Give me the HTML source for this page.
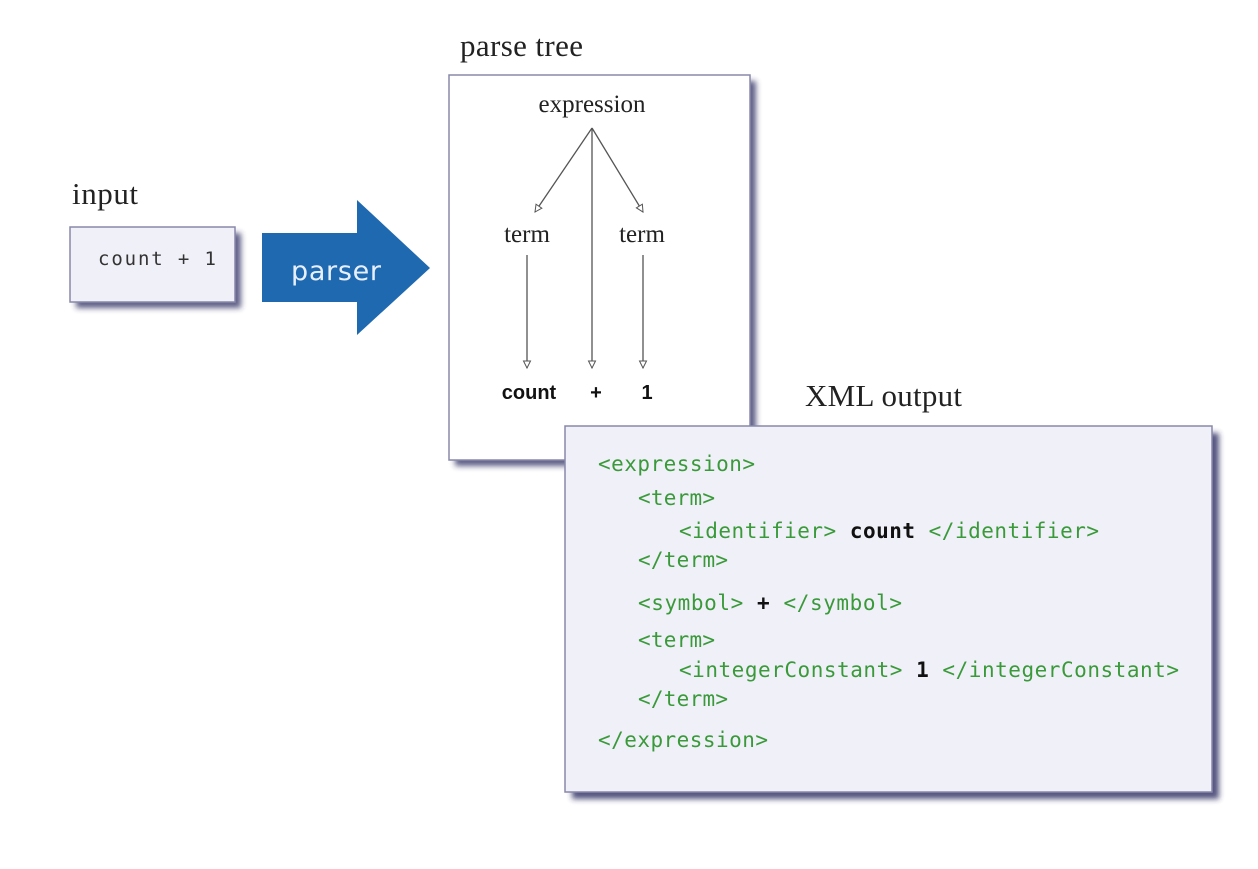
<!DOCTYPE html>
<html><head><meta charset="utf-8"><style>html,body{margin:0;padding:0;background:#fff}</style></head>
<body>
<svg width="1258" height="864" viewBox="0 0 1258 864" xmlns="http://www.w3.org/2000/svg">
<defs>
<filter id="sh" x="-10%" y="-10%" width="130%" height="130%"><feGaussianBlur stdDeviation="3"/></filter>
<marker id="ah" markerWidth="10" markerHeight="10" refX="8" refY="5" orient="auto" markerUnits="userSpaceOnUse">
<path d="M1,1.5 L8,5 L1,8.5 Z" fill="#fff" stroke="#555" stroke-width="1"/></marker>
</defs>
<g font-family="Liberation Serif, serif" fill="#222">
<text x="460" y="56" font-size="31" textLength="123">parse tree</text>
<text x="72" y="204" font-size="31" textLength="66">input</text>
<text x="805" y="406" font-size="31" textLength="157">XML output</text>
</g>
<!-- input box -->
<rect x="76" y="233" width="165" height="75" fill="#2a2a60" opacity="0.75" filter="url(#sh)"/>
<rect x="70" y="227" width="165" height="75" fill="#f0f0f8" stroke="#8888aa" stroke-width="1.5"/>
<text x="98" y="265" font-family="DejaVu Sans Mono, monospace" font-size="19" fill="#333" textLength="118">count + 1</text>
<!-- parser arrow -->
<path d="M262,233 L357,233 L357,200 L430,268 L357,335 L357,302 L262,302 Z" fill="#1f69b0"/>
<text x="291" y="280" font-family="DejaVu Sans, sans-serif" font-size="27" fill="#e8f0ff" textLength="90">parser</text>
<!-- parse tree box -->
<rect x="455" y="81" width="301" height="385" fill="#2a2a60" opacity="0.75" filter="url(#sh)"/>
<rect x="449" y="75" width="301" height="385" fill="#fff" stroke="#8888aa" stroke-width="1.5"/>
<text x="592" y="112" text-anchor="middle" font-family="Liberation Serif, serif" font-size="25" fill="#222">expression</text>
<g stroke="#555" stroke-width="1.3" fill="none">
<line x1="592" y1="128" x2="535" y2="212" marker-end="url(#ah)"/>
<line x1="592" y1="128" x2="643" y2="212" marker-end="url(#ah)"/>
<line x1="592" y1="128" x2="592" y2="368" marker-end="url(#ah)"/>
<line x1="527" y1="255" x2="527" y2="368" marker-end="url(#ah)"/>
<line x1="643" y1="255" x2="643" y2="368" marker-end="url(#ah)"/>
</g>
<text x="527" y="242" text-anchor="middle" font-family="Liberation Serif, serif" font-size="25" fill="#222">term</text>
<text x="642" y="242" text-anchor="middle" font-family="Liberation Serif, serif" font-size="25" fill="#222">term</text>
<g font-family="Liberation Sans, sans-serif" font-size="20" font-weight="bold" fill="#111" text-anchor="middle">
<text x="529" y="399">count</text><text x="596" y="399">+</text><text x="647" y="399">1</text>
</g>
<!-- XML box -->
<rect x="572" y="433" width="647" height="366" fill="#2a2a60" opacity="0.8" filter="url(#sh)"/>
<rect x="565" y="426" width="647" height="366" fill="#f0f0f8" stroke="#8888aa" stroke-width="1.5"/>
<g font-family="DejaVu Sans Mono, Liberation Mono, monospace" font-size="21" fill="#3a9a3a">
<text x="598" y="471" textLength="157">&lt;expression&gt;</text>
<text x="638" y="505" textLength="77">&lt;term&gt;</text>
<text x="679" y="538" textLength="420">&lt;identifier&gt; <tspan fill="#111" font-weight="bold">count</tspan> &lt;/identifier&gt;</text>
<text x="638" y="567" textLength="90">&lt;/term&gt;</text>
<text x="638" y="610" textLength="264">&lt;symbol&gt; <tspan fill="#111" font-weight="bold">+</tspan> &lt;/symbol&gt;</text>
<text x="638" y="647" textLength="77">&lt;term&gt;</text>
<text x="679" y="677" textLength="500">&lt;integerConstant&gt; <tspan fill="#111" font-weight="bold">1</tspan> &lt;/integerConstant&gt;</text>
<text x="638" y="706" textLength="90">&lt;/term&gt;</text>
<text x="598" y="747" textLength="170">&lt;/expression&gt;</text>
</g>
</svg>
</body></html>
